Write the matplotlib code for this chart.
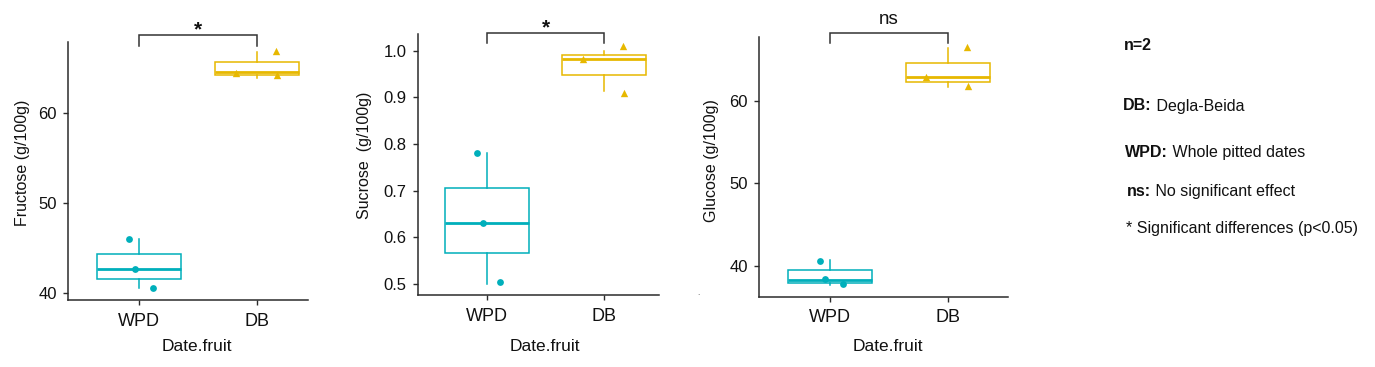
import matplotlib
matplotlib.use("Agg")
import matplotlib.pyplot as plt

plt.rcParams['font.family'] = ['Liberation Sans', 'DejaVu Sans']

# ---------------- data ----------------
categories = ["WPD", "DB"]
ylabels = ["Fructose (g/100g)", "Sucrose  (g/100g)", "Glucose (g/100g)"]
xlabel = "Date.fruit"

# values used for the boxes (read from whiskers / medians)
fructose_box = {"WPD": [40.55, 42.7, 46.03], "DB": [63.9, 64.55, 66.85]}
sucrose_box = {"WPD": [0.50, 0.631, 0.78], "DB": [0.913, 0.982, 1.0]}
glucose_box = {"WPD": [37.6, 38.25, 40.7], "DB": [61.7, 62.85, 66.4]}

# jittered points as displayed
fructose_pts = {"WPD": [40.6, 42.7, 46.0], "DB": [64.2, 64.5, 66.9]}
sucrose_pts = {"WPD": [0.505, 0.63, 0.78], "DB": [0.91, 0.982, 1.01]}
glucose_pts = {"WPD": [37.74, 38.35, 40.6], "DB": [61.83, 62.9, 66.6]}

# horizontal jitter of each point (category units)
jitter = {"WPD": [0.115, -0.037, -0.083], "DB": [0.17, -0.18, 0.16]}

yticks = [[40, 50, 60], [0.5, 0.6, 0.7, 0.8, 0.9, 1.0], [40, 50, 60]]
ytick_fmt = ["{:.0f}", "{:.1f}", "{:.0f}"]
signif = ["*", "*", "ns"]
panel_ylim = [(39.26, 67.92), (0.4764, 1.0347), (36.23, 67.8)]
bracket_y = [(68.7, 67.48), (1.038, 1.0154), (68.24, 67.02)]

colors = {"WPD": "#00AFBB", "DB": "#E7B800"}
markers = {"WPD": "o", "DB": "^"}

# ---------------- layout (pixels) ----------------
W, H = 1375, 367
fig = plt.figure(figsize=(W / 100, H / 100), dpi=100)

# left, right, top, bottom (px), WPD tick px, DB tick px
panels_px = [
    (68, 308, 42, 300, 139, 257),
    (417.7, 659.3, 34.3, 295, 487, 604),
    (759, 1008.3, 36.7, 296.7, 829.7, 947.7),
]
ylabel_right_px = [30, 372, 719]
ylabel_frac = [0.533, 0.537, 0.523]
xlabel_center_px = [197, 544.5, 887.7]

box_data = [fructose_box, sucrose_box, glucose_box]
pt_data = [fructose_pts, sucrose_pts, glucose_pts]

txt_col = "#111111"
ax_col = "#2b2b2b"

for i in range(3):
    l, r, t, b, xw, xd = panels_px[i]
    ax = fig.add_axes([l / W, (H - b) / H, (r - l) / W, (b - t) / H])
    sp = xd - xw
    ax.set_xlim((l - xw) / sp, (r - xw) / sp)
    ax.set_ylim(*panel_ylim[i])

    for k, cat in enumerate(categories):
        bp = ax.boxplot([box_data[i][cat]], positions=[k], widths=0.71,
                        showcaps=False, showfliers=False, patch_artist=True,
                        whis=1.5, manage_ticks=False)
        for p in bp['boxes']:
            p.set_facecolor('white')
            p.set_edgecolor(colors[cat])
            p.set_linewidth(1.1)
        for w in bp['whiskers']:
            w.set_color(colors[cat])
            w.set_linewidth(1.1)
        for m in bp['medians']:
            m.set_color(colors[cat])
            m.set_linewidth(2.0)
        xs = [k + j for j in jitter[cat]]
        ax.scatter(xs, pt_data[i][cat], marker=markers[cat], color=colors[cat],
                   s=24 if cat == "WPD" else 28, zorder=5, linewidths=0)

    ax.set_xticks(range(len(categories)))
    ax.set_xticklabels(categories, fontsize=13, color=txt_col)
    ax.set_yticks(yticks[i])
    ax.set_yticklabels([ytick_fmt[i].format(v) for v in yticks[i]],
                       fontsize=12, color=txt_col)
    ax.tick_params(axis='both', length=3.6, width=1.0, color=ax_col, pad=4.5)
    ax.tick_params(axis='x', pad=5.5)
    for s in ['top', 'right']:
        ax.spines[s].set_visible(False)
    for s in ['left', 'bottom']:
        ax.spines[s].set_color(ax_col)
        ax.spines[s].set_linewidth(1.1)

    ax.set_ylabel(ylabels[i], fontsize=11.5, color=txt_col)
    ax.yaxis.set_label_coords((ylabel_right_px[i] - l) / (r - l), ylabel_frac[i])
    ax.set_xlabel(xlabel, fontsize=12.5, color=txt_col)
    ax.xaxis.set_label_coords((xlabel_center_px[i] - l) / (r - l), -(351 - b) / (b - t))
    ax.xaxis.label.set_va('baseline')

    # significance bracket
    yb, yt = bracket_y[i]
    ax.plot([0, 0, 1, 1], [yt, yb, yb, yt], color="#333333", lw=1.1,
            clip_on=False, solid_joinstyle='miter')
    if signif[i] == "*":
        ax.annotate("*", xy=(0.5, yb), xytext=(0, -0.5), textcoords='offset points',
                    ha='center', va='baseline', fontsize=15, fontweight='bold',
                    color=txt_col, annotation_clip=False)
    else:
        ax.annotate("ns", xy=(0.5, yb), xytext=(0, 6.5), textcoords='offset points',
                    ha='center', va='baseline', fontsize=13.5, color=txt_col,
                    annotation_clip=False)

# ---------------- side notes ----------------
bg = fig.add_axes([0, 0, 1, 1], zorder=-1)
bg.set_xlim(0, W)
bg.set_ylim(H, 0)
bg.axis('off')

fs = 11.5
bg.text(1124, 45, "n=2", fontsize=11.5, fontweight='bold', va='center', ha='left', color=txt_col)
notes = [
    (1123, 106, "DB:", " Degla-Beida"),
    (1125, 152.7, "WPD:", " Whole pitted dates"),
    (1126.7, 191.7, "ns:", " No significant effect"),
]
for x, y, bold, rest in notes:
    tb = bg.text(x, y, bold, fontsize=fs, fontweight='bold', va='center', ha='left', color=txt_col)
    bg.annotate(rest, xy=(1, 0.5), xycoords=tb, va='center', ha='left',
                fontsize=fs, color=txt_col)
bg.text(1125.7, 229, "* Significant differences (p<0.05)", fontsize=fs,
        va='center', ha='left', color=txt_col)
bg.text(698, 295, ".", fontsize=6, color="#444444", ha='center', va='baseline')

fig.savefig("out.png", dpi=100)
